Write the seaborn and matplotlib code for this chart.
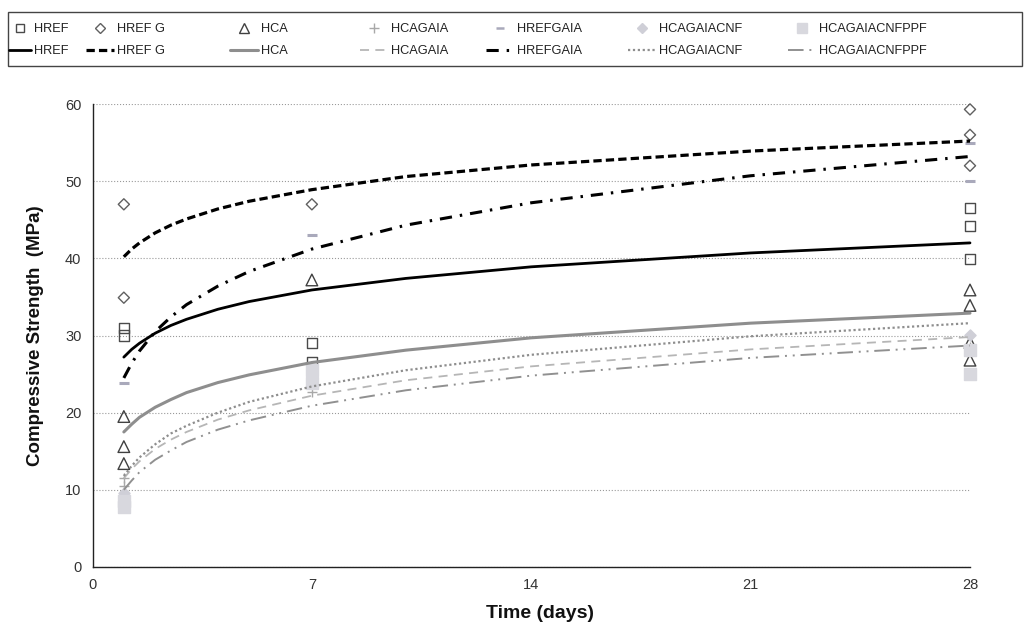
import matplotlib
matplotlib.use('Agg')
import matplotlib.pyplot as plt
import seaborn as sns
from matplotlib.lines import Line2D
from matplotlib.patches import Rectangle

sns.set_style('white')
plt.rcParams['font.family'] = ['Liberation Sans', 'DejaVu Sans']

# ---------------- data ----------------
series = ["HREF", "HREF G", "HCA", "HCAGAIA", "HREFGAIA", "HCAGAIACNF", "HCAGAIACNFPPF"]

# measured specimens (day, MPa)
href_days = [1, 1, 7, 7, 28, 28, 28]
href_vals = [31.0, 30.0, 29.0, 26.6, 46.5, 44.2, 39.9]
hrefg_days = [1, 1, 7, 28, 28, 28]
hrefg_vals = [47.0, 34.9, 47.0, 59.3, 56.0, 52.0]
hca_days = [1, 1, 1, 7, 28, 28, 28, 28]
hca_vals = [19.5, 15.6, 13.4, 37.2, 35.9, 33.9, 29.1, 26.8]
hcagaia_days = [1, 1, 7, 28]
hcagaia_vals = [11.5, 10.5, 22.7, 28.5]
hrefgaia_days = [1, 7, 28, 28]
hrefgaia_vals = [23.9, 43.0, 55.0, 50.0]
cnf_days = [1, 7, 28]
cnf_vals = [9.6, 24.9, 30.1]
ppf_days = [1, 1, 7, 7, 28, 28]
ppf_vals = [8.5, 7.8, 25.5, 23.8, 28.1, 25.0]

# trend lines
trend_days = [1, 1.25, 1.5, 2, 2.5, 3, 4, 5, 7, 10, 14, 21, 28]
href_trend = [27.2, 28.2, 29.0, 30.3, 31.3, 32.1, 33.4, 34.4, 35.9, 37.4, 38.9, 40.7, 42.0]
hrefg_trend = [40.2, 41.2, 42.0, 43.3, 44.3, 45.1, 46.4, 47.4, 48.9, 50.6, 52.1, 53.9, 55.2]
hca_trend = [17.5, 18.5, 19.4, 20.7, 21.7, 22.6, 23.9, 24.9, 26.5, 28.1, 29.7, 31.6, 32.9]
hcagaia_trend = [11.5, 12.7, 13.7, 15.3, 16.5, 17.5, 19.1, 20.3, 22.2, 24.2, 26.0, 28.2, 29.8]
hrefgaia_trend = [24.5, 26.4, 28.0, 30.5, 32.4, 34.0, 36.4, 38.3, 41.2, 44.3, 47.2, 50.7, 53.2]
cnf_trend = [11.8, 13.1, 14.2, 15.9, 17.3, 18.3, 20.0, 21.4, 23.4, 25.5, 27.5, 29.9, 31.6]
ppf_trend = [10.0, 11.2, 12.3, 13.9, 15.1, 16.2, 17.8, 19.0, 20.9, 22.9, 24.8, 27.1, 28.7]

x_ticks = [0, 7, 14, 21, 28]
y_ticks = [0, 10, 20, 30, 40, 50, 60]

# ---------------- styles ----------------
point_sets = [(href_days, href_vals), (hrefg_days, hrefg_vals), (hca_days, hca_vals),
              (hcagaia_days, hcagaia_vals), (hrefgaia_days, hrefgaia_vals),
              (cnf_days, cnf_vals), (ppf_days, ppf_vals)]
trends = [href_trend, hrefg_trend, hca_trend, hcagaia_trend, hrefgaia_trend, cnf_trend, ppf_trend]

# marker, size, edge color, face color, linewidth, legend markersize
mk_style = [
    ('s', 55, '#4a4a4a', 'none', 1.0, 6),
    ('D', 32, '#606060', 'none', 1.0, 5),
    ('^', 70, '#404040', 'none', 1.0, 7),
    ('+', 55, '#a8a8a8', '#a8a8a8', 1.0, 7),
    ('_', 45, '#a9a9bb', '#a9a9bb', 2.2, 6),
    ('D', 32, '#cfcfd7', '#cfcfd7', 1.0, 5),
    ('s', 80, '#d8d8de', '#d8d8de', 1.0, 7),
]
# color, lw, linestyle
ln_style = [
    ('#000000', 2.0, '-'),
    ('#000000', 2.3, (0, (2.6, 1.3))),
    ('#8e8e8e', 2.2, '-'),
    ('#b6b6b6', 1.3, (0, (5, 3.5))),
    ('#000000', 2.2, (0, (4, 2.6, 0.8, 2.6))),
    ('#8e8e8e', 1.6, (0, (1, 1.2))),
    ('#909090', 1.4, (0, (8, 3, 1, 3, 1, 3))),
]

W, H = 1029, 628
fig = plt.figure(figsize=(W / 100, H / 100), dpi=100)
ax = fig.add_axes([92.5 / W, 1 - 567 / H, (970 - 92.5) / W, (567 - 104) / H])

for (d, v), (m, s, ec, fc, lw, _) in zip(point_sets, mk_style):
    sns.scatterplot(x=d, y=v, ax=ax, marker=m, s=s, color=ec, linewidth=lw,
                    clip_on=False, zorder=3)
    coll = ax.collections[-1]
    coll.set_facecolor(fc)
    coll.set_edgecolor(ec)
    coll.set_linewidth(lw)

for t, (c, lw, ls) in zip(trends, ln_style):
    sns.lineplot(x=trend_days, y=t, ax=ax, color=c, linewidth=lw, linestyle=ls,
                 zorder=4, clip_on=False)

ax.set_xlim(0, 28)
ax.set_ylim(0, 60)
ax.set_xticks(x_ticks)
ax.set_yticks(y_ticks)
ax.yaxis.grid(True, linestyle=':', color='#9a9a9a', linewidth=0.8)
ax.xaxis.grid(False)
ax.set_axisbelow(True)
for sp in ['top', 'right']:
    ax.spines[sp].set_visible(False)
for sp in ['left', 'bottom']:
    ax.spines[sp].set_color('#222222')
    ax.spines[sp].set_linewidth(1.0)
ax.tick_params(direction='out', length=5, width=1, color='#222222',
               labelsize=10.5, labelcolor='#333333', pad=3)

ax.set_xlabel('Time (days)', fontsize=14, fontweight='bold', color='#111111')
ax.set_ylabel('Compressive Strength  (MPa)', fontsize=13.5, fontweight='bold', color='#111111')
ax.xaxis.set_label_coords((540 - 92.5) / (970 - 92.5), (567 - 605) / (567 - 104))
ax.yaxis.set_label_coords((44 - 92.5) / (970 - 92.5), 0.5)

# ---------------- legend ----------------
fig.patches.append(Rectangle((8 / W, 1 - 66 / H), 1014 / W, 54 / H, transform=fig.transFigure,
                             fill=False, edgecolor='#444444', linewidth=1.0))
text_x = [33, 116, 260, 390, 516, 658, 818]
for i, name in enumerate(series):
    m, s, ec, fc, lw, lms = mk_style[i]
    c, llw, ls = ln_style[i]
    mh = Line2D([], [], marker=m, linestyle='none', markersize=lms,
                markerfacecolor=fc, markeredgecolor=ec, markeredgewidth=min(lw, 1.8))
    lh = Line2D([], [], color=c, linewidth=llw, linestyle=ls)
    hl = 1.7 if i == 0 else 2.2
    start = text_x[i] - (hl + 0.2) * 12.5
    fig.legend(handles=[mh, lh], labels=[name, name], loc='upper left',
               bbox_to_anchor=(start / W, 1 - 23 / H), frameon=False, borderpad=0,
               borderaxespad=0, handlelength=hl, handletextpad=0.2, labelspacing=0.8,
               fontsize=9.2, labelcolor='#222222')

fig.savefig('out.png', dpi=100)
